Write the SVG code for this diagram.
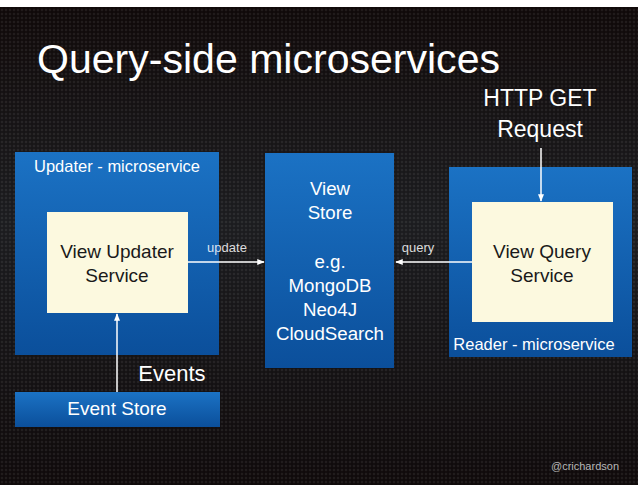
<svg xmlns="http://www.w3.org/2000/svg" width="638" height="493" viewBox="0 0 638 493">
<defs>
<linearGradient id="bg" x1="0" y1="0" x2="0" y2="1">
<stop offset="0" stop-color="#150c0c"/>
<stop offset="0.45" stop-color="#25262a"/>
<stop offset="1" stop-color="#140d0e"/>
</linearGradient>
<linearGradient id="blue" x1="0" y1="0" x2="0" y2="1">
<stop offset="0" stop-color="#1b72c4"/>
<stop offset="1" stop-color="#0b4f9b"/>
</linearGradient>
<pattern id="dots" width="4" height="4" patternUnits="userSpaceOnUse">
<rect width="4" height="4" fill="#000" fill-opacity="0.25"/>
<circle cx="2" cy="2" r="1.3" fill="#ffffff" fill-opacity="0.07"/>
</pattern>
<marker id="ah" viewBox="0 0 10 10" refX="9" refY="5" markerWidth="5" markerHeight="5" orient="auto">
<path d="M0,1 L10,5 L0,9 z" fill="#ffffff"/>
</marker>
<style>
.blue{fill:url(#blue);}
.cream{fill:#fcf9df;}
.wt{fill:#ffffff;font-family:"Liberation Sans",Arial,sans-serif;}
.bt{fill:#1a1a1a;font-family:"Liberation Sans",Arial,sans-serif;}
.conn{stroke:#ffffff;stroke-width:1.5;fill:none;marker-end:url(#ah);}
</style>
</defs>
<rect width="638" height="493" fill="#ffffff"/>
<rect y="7" width="638" height="478" fill="url(#bg)"/>
<rect y="7" width="638" height="478" fill="url(#dots)"/>
<text class="wt" x="37" y="73" font-size="41" textLength="463" lengthAdjust="spacingAndGlyphs">Query-side microservices</text>
<g id="updater-microservice">
<rect class="blue" x="15" y="152" width="204" height="203"/>
<text class="wt" x="117" y="172" font-size="16.5" text-anchor="middle">Updater - microservice</text>
</g>
<g id="view-updater-service">
<rect class="cream" x="47" y="212" width="141" height="101"/>
<text class="bt" x="117" y="258" font-size="19" text-anchor="middle">View Updater</text>
<text class="bt" x="117" y="282" font-size="19" text-anchor="middle">Service</text>
</g>
<g id="event-store">
<rect class="blue" x="15" y="392" width="205" height="35"/>
<text class="wt" x="117" y="415" font-size="19" text-anchor="middle">Event Store</text>
</g>
<g id="view-store">
<rect class="blue" x="265" y="153" width="129" height="215"/>
<text class="wt" font-size="18.7" text-anchor="middle"><tspan x="330" y="195">View</tspan><tspan x="330" y="219">Store</tspan><tspan x="330" y="268">e.g.</tspan><tspan x="330" y="292">MongoDB</tspan><tspan x="330" y="316">Neo4J</tspan><tspan x="330" y="340">CloudSearch</tspan></text>
</g>
<g id="reader-microservice">
<rect class="blue" x="449" y="167" width="183" height="190"/>
<text class="wt" x="534" y="350" font-size="16.5" text-anchor="middle">Reader - microservice</text>
</g>
<g id="view-query-service">
<rect class="cream" x="472" y="202" width="141" height="120"/>
<text class="bt" x="542" y="258" font-size="19" text-anchor="middle">View Query</text>
<text class="bt" x="542" y="282" font-size="19" text-anchor="middle">Service</text>
</g>
<g id="http-get">
<text class="wt" x="540" y="106" font-size="23" text-anchor="middle">HTTP GET</text>
<text class="wt" x="540" y="137" font-size="23" text-anchor="middle">Request</text>
</g>
<g id="connectors">
<line class="conn" x1="117" y1="392" x2="117" y2="314"/>
<line class="conn" x1="188" y1="262" x2="264" y2="262"/>
<line class="conn" x1="472" y1="262" x2="396" y2="262"/>
<line class="conn" x1="541" y1="148" x2="541" y2="201"/>
<text class="wt" x="227" y="252" font-size="13" text-anchor="middle" fill-opacity="0.85">update</text>
<text class="wt" x="418" y="252" font-size="13" text-anchor="middle" fill-opacity="0.85">query</text>
<text class="wt" x="172" y="381" font-size="22" text-anchor="middle">Events</text>
</g>
<text x="619" y="470" font-size="11" text-anchor="end" fill="#b8b8b8" font-family="'Liberation Sans',Arial,sans-serif">@crichardson</text>
</svg>
